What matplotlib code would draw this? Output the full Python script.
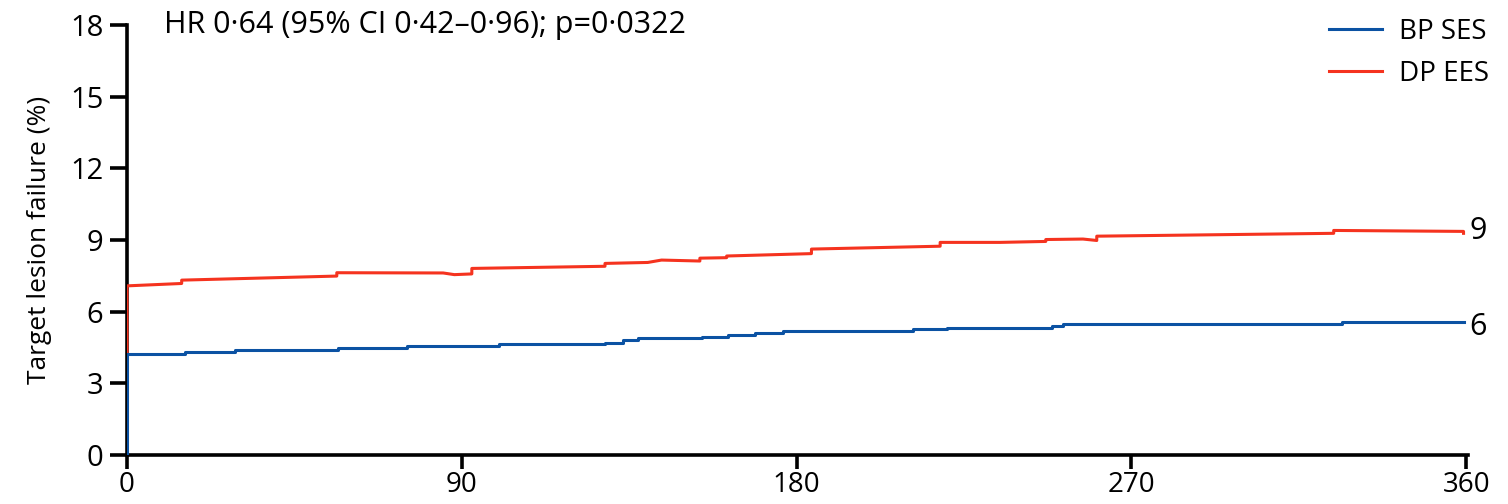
import numpy as np
import matplotlib.pyplot as plt

plt.rcParams['font.family'] = ['Open Sans', 'DejaVu Sans']

# Kaplan-Meier style cumulative incidence (days, %)
red_days = [0, 0, 14.7, 14.7, 56.4, 56.4, 85, 88, 92.7, 92.7, 128.5, 128.5, 140, 143.7,
            154, 154, 161.2, 161.2, 184, 184, 218.6, 218.6, 234.7, 247, 247, 257,
            260.7, 260.7, 324.4, 324.4, 359.3, 359.3]
red_vals = [0, 7.08, 7.18, 7.32, 7.49, 7.63, 7.62, 7.55, 7.58, 7.81, 7.90, 8.02, 8.06, 8.16,
            8.12, 8.24, 8.26, 8.33, 8.43, 8.62, 8.74, 8.90, 8.90, 8.94, 9.02, 9.04,
            8.98, 9.16, 9.28, 9.40, 9.36, 9.28]

blue_days = [0, 0, 15.6, 29, 56.8, 75.2, 99.9, 128.5, 133.4, 137.5, 154.5, 161.7,
             168.8, 176.3, 211.4, 220.4, 248.6, 251.7, 326.7, 359.3]
blue_vals = [0, 4.23, 4.30, 4.39, 4.46, 4.56, 4.63, 4.70, 4.81, 4.91, 4.95, 5.02,
             5.09, 5.19, 5.26, 5.33, 5.40, 5.48, 5.55, 5.55]

x_ticks = [0, 90, 180, 270, 360]
y_ticks = [0, 3, 6, 9, 12, 15, 18]
end_labels = {'BP SES': '6', 'DP EES': '9'}
annot = 'HR 0\u00b764 (95% CI 0\u00b742\u20130\u00b796); p=0\u00b70322'

red = '#f5331f'
blue = '#0b52a3'

fig = plt.figure(figsize=(15.08, 5.04), dpi=100)
ax = fig.add_axes([127 / 1508, 1 - 455 / 504, (1468 - 127) / 1508, (455 - 25) / 504])

ax.plot(red_days, red_vals, color=red, lw=2.2, label='DP EES', zorder=3)
ax.step(blue_days, blue_vals, where='post', color=blue, lw=2.2, label='BP SES', zorder=4)

ax.text(red_days[-1] + 1.5, 9.38, end_labels['DP EES'], fontsize=22,
        va='center', ha='left')
ax.text(blue_days[-1] + 1.5, 5.37, end_labels['BP SES'], fontsize=22,
        va='center', ha='left')

ax.text(10, 18, annot, fontsize=22, va='center', ha='left')

ax.set_xlim(0, 360.5)
ax.set_ylim(0, 18)
ax.set_xticks(x_ticks)
ax.set_yticks(y_ticks)
ax.tick_params(axis='y', width=2.6, length=12, labelsize=21, pad=5)
ax.tick_params(axis='x', width=2.6, length=10, labelsize=20, pad=1.5)
for s in ['top', 'right']:
    ax.spines[s].set_visible(False)
for s in ['left', 'bottom']:
    ax.spines[s].set_linewidth(2.6)

ax.set_ylabel('Target lesion failure (%)', fontsize=19, labelpad=13)

handles, labels = ax.get_legend_handles_labels()
leg = ax.legend(handles[::-1], labels[::-1], loc='upper right', frameon=False,
                fontsize=20, handlelength=1.9, handletextpad=0.6, labelspacing=0.5,
                bbox_to_anchor=(1.034, 1.075))

fig.savefig('out.png', dpi=100)
